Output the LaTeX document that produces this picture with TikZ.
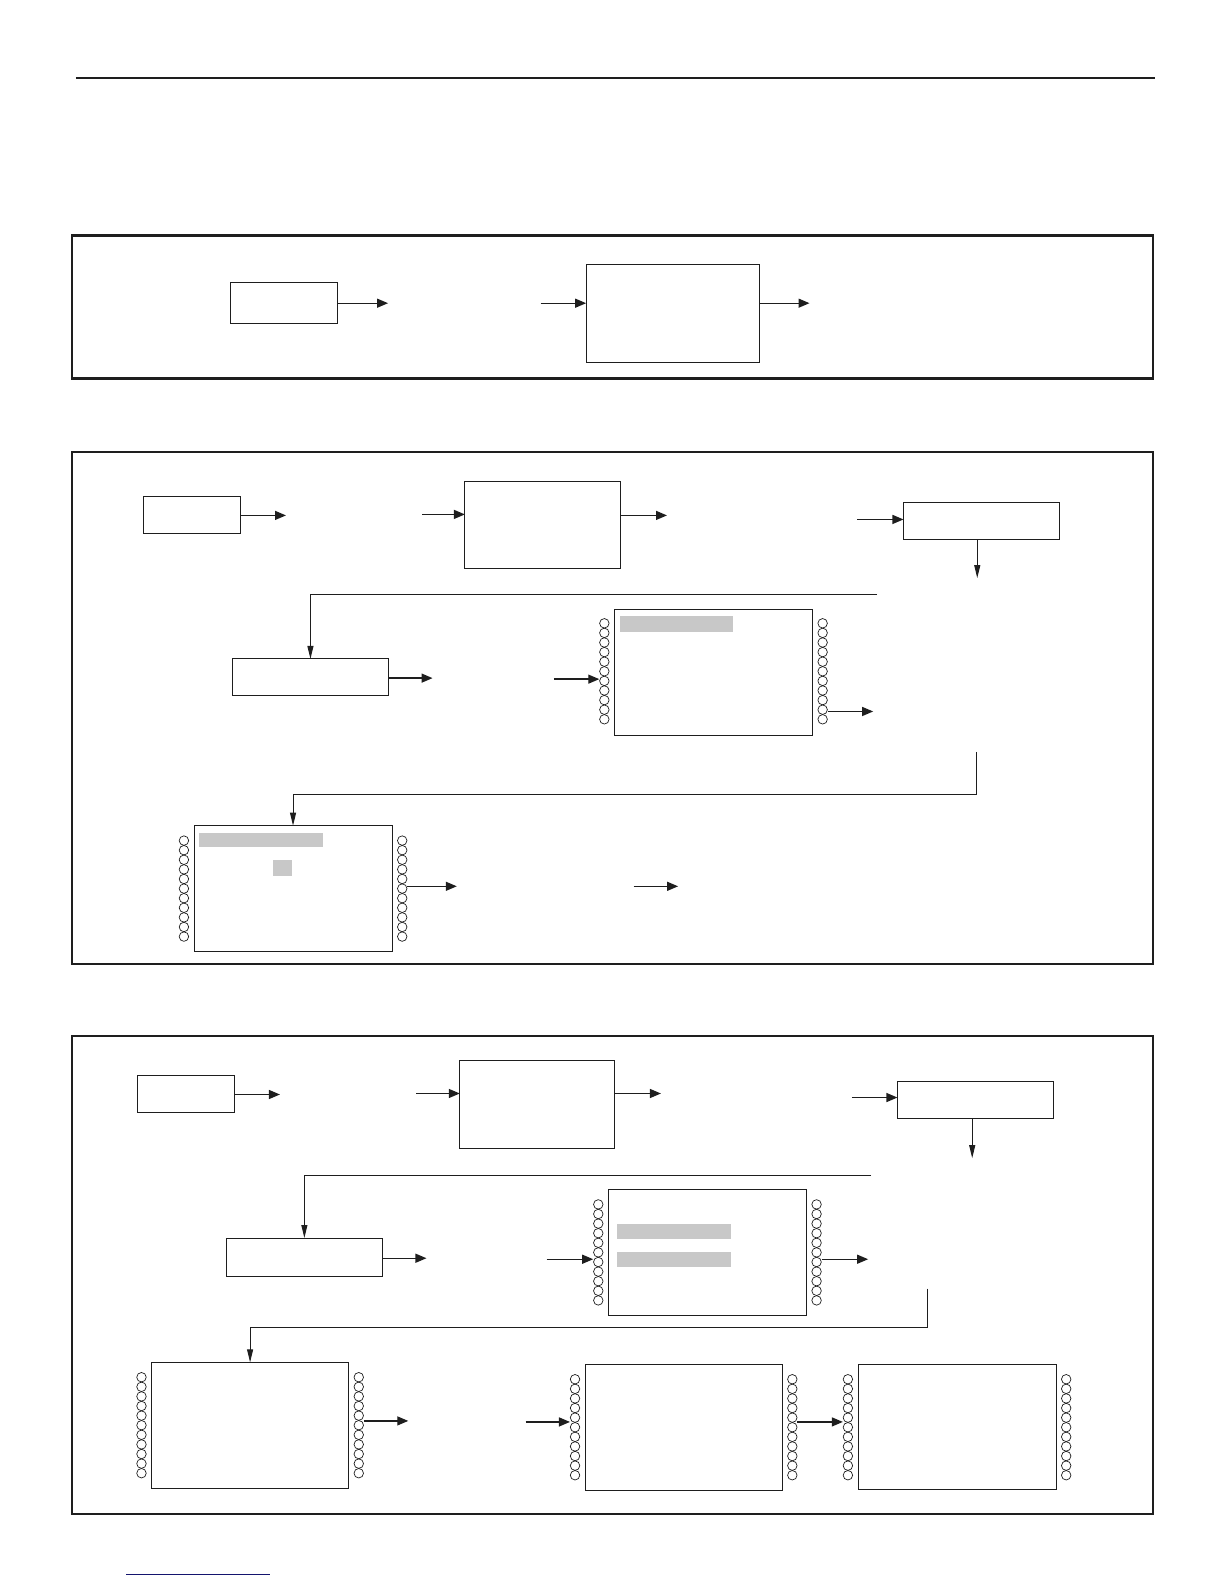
\documentclass[tikz,border=0pt]{standalone}
\usetikzlibrary{arrows.meta}
\definecolor{navy}{RGB}{20,20,110}
\definecolor{barg}{RGB}{200,200,200}
\definecolor{ink}{RGB}{30,30,30}
\newcommand{\mybox}[6]{\node[#1,anchor=north west,minimum width=#5pt,minimum height=#6pt] (#2) at (#3,#4) {};}
\newcommand{\mypins}[2]{\foreach \k in {0,...,10}{\draw[pin] (#1,#2+4.75+\k*9.5) circle[radius=4.75pt];}}
\begin{document}
\begin{tikzpicture}[x=1.0106pt,y=-1.0106pt,
  panel/.style={draw=ink,line width=2.4pt,inner sep=0pt,outer sep=0pt},
  bx/.style={draw=ink,line width=0.9pt,inner sep=0pt,outer sep=0pt},
  chipbox/.style={draw=ink,line width=0.9pt,inner sep=0pt,outer sep=0pt},
  arr/.style={draw=ink,line width=1.3pt,-{Triangle[length=11pt,width=9pt]}},
  conn/.style={draw=ink,line width=1pt,-{Triangle[length=13pt,width=6pt]}},
  pin/.style={draw=ink,line width=0.7pt},
  bar/.style={fill=barg,draw=none}]
\path[use as bounding box] (0pt,0pt) rectangle (1224pt,-1584pt);

% rules
\draw[ink,line width=2.4pt] (75,77) -- (1143,77);
\draw[navy,line width=1.5pt] (125,1558) -- (267,1558);

% ---------- panel 1
\mybox{panel}{p1}{71}{233}{1081}{143}
\mybox{bx}{a1}{228}{279}{107}{41}
\mybox{bx}{b1}{580}{262}{173}{98}
\coordinate (a1o) at (384,300);
\coordinate (b1i) at (535,300);
\coordinate (b1o) at (801,300);
\draw[arr] (a1o -| a1.east) -- (a1o);
\draw[arr] (b1i) -- (b1i -| b1.west);
\draw[arr] (b1o -| b1.east) -- (b1o);

% ---------- panel 2
\mybox{panel}{p2}{71}{447}{1081}{512}
\mybox{bx}{a2}{142}{491}{97}{37}
\mybox{bx}{b2}{460}{476}{156}{87}
\mybox{bx}{c2}{894}{497}{156}{37}
\mybox{bx}{d2}{230}{652}{156}{37}
\mybox{chipbox}{e2}{608}{603}{198}{126}
\mybox{chipbox}{f2}{192}{817}{198}{126}
\mypins{598}{612}\mypins{814}{612}
\mypins{182}{827}\mypins{398}{827}
\fill[bar] (613,610) rectangle (725,625);
\fill[bar] (197,824) rectangle (320,838);
\fill[bar] (270,851) rectangle (289,867);

\coordinate (a2o) at (283,510);
\coordinate (b2i) at (418,509);
\coordinate (b2o) at (660,510);
\coordinate (c2i) at (848,514);
\coordinate (c2d) at (967,572);
\coordinate (l2s) at (868,588);
\coordinate (d2o) at (428,671);
\coordinate (e2i) at (548,672);
\coordinate (e2ip) at (593,672);
\coordinate (e2op) at (819,704);
\coordinate (e2o) at (864,704);
\coordinate (l3s) at (966,744);
\coordinate (l3c) at (966,786);
\coordinate (f2op) at (403,877);
\coordinate (f2o) at (452,877);
\coordinate (x2s) at (627,877);
\coordinate (x2e) at (671,877);

\draw[arr] (a2o -| a2.east) -- (a2o);
\draw[arr] (b2i) -- (b2i -| b2.west);
\draw[arr] (b2o -| b2.east) -- (b2o);
\draw[arr] (c2i) -- (c2i -| c2.west);
\draw[conn] (c2d |- c2.south) -- (c2d);
\draw[conn] (l2s) -| (d2.north);
\draw[arr] (d2o -| d2.east) -- (d2o);
\draw[arr] (e2i) -- (e2ip);
\draw[arr] (e2op) -- (e2o);
\draw[conn] (l3s) -- (l3c) -| (f2.north);
\draw[arr] (f2op) -- (f2o);
\draw[arr] (x2s) -- (x2e);

% ---------- panel 3
\mybox{panel}{p3}{71}{1025}{1081}{478}
\mybox{bx}{a3}{136}{1064}{97}{37}
\mybox{bx}{b3}{455}{1049}{155}{88}
\mybox{bx}{c3}{888}{1070}{156}{37}
\mybox{bx}{d3}{224}{1225}{156}{38}
\mybox{chipbox}{e3}{602}{1177}{198}{126}
\mybox{chipbox}{f3}{150}{1348}{197}{126}
\mybox{chipbox}{g3}{579}{1350}{197}{126}
\mybox{chipbox}{h3}{849}{1350}{198}{125}
\mypins{592}{1187}\mypins{808}{1187}
\mypins{140}{1358}\mypins{355}{1358}
\mypins{569}{1360}\mypins{784}{1360}
\mypins{839}{1360}\mypins{1055}{1360}
\fill[bar] (611,1211) rectangle (723,1226);
\fill[bar] (611,1239) rectangle (723,1254);

\coordinate (a3o) at (277,1083);
\coordinate (b3i) at (412,1082);
\coordinate (b3o) at (654,1082);
\coordinate (c3i) at (843,1086);
\coordinate (c3d) at (962,1146);
\coordinate (l4s) at (862,1163);
\coordinate (d3o) at (422,1245);
\coordinate (e3i) at (541,1246);
\coordinate (e3ip) at (587,1246);
\coordinate (e3op) at (813,1246);
\coordinate (e3o) at (859,1246);
\coordinate (l5s) at (918,1275);
\coordinate (l5c) at (918,1314);
\coordinate (f3op) at (360,1406);
\coordinate (f3o) at (404,1406);
\coordinate (g3i) at (520,1407);
\coordinate (g3ip) at (564,1407);
\coordinate (g3op) at (789,1407);
\coordinate (h3ip) at (834,1407);

\draw[arr] (a3o -| a3.east) -- (a3o);
\draw[arr] (b3i) -- (b3i -| b3.west);
\draw[arr] (b3o -| b3.east) -- (b3o);
\draw[arr] (c3i) -- (c3i -| c3.west);
\draw[conn] (c3d |- c3.south) -- (c3d);
\draw[conn] (l4s) -| (d3.north);
\draw[arr] (d3o -| d3.east) -- (d3o);
\draw[arr] (e3i) -- (e3ip);
\draw[arr] (e3op) -- (e3o);
\draw[conn] (l5s) -- (l5c) -| (f3.north);
\draw[arr] (f3op) -- (f3o);
\draw[arr] (g3i) -- (g3ip);
\draw[arr] (g3op) -- (h3ip);
\end{tikzpicture}
\end{document}
